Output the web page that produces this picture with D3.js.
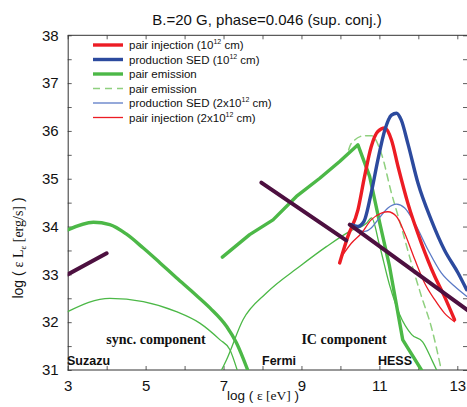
<!DOCTYPE html>
<html>
<head>
<meta charset="utf-8">
<script src="https://cdn.jsdelivr.net/npm/d3@7/dist/d3.min.js"></script>
<style>
  body { margin: 0; background: #fff; }
  text { font-family: "Liberation Sans", Arial, sans-serif; fill: #111; }
</style>
</head>
<body>
<svg id="chart" width="467" height="407"></svg>
<script>
// ---- tick labels ----
const xTickLabels = [3, 5, 7, 9, 11, 13];
const yTickLabels = [31, 32, 33, 34, 35, 36, 37, 38];

// ---- model curves: [log eps (eV), log eps L (erg/s)] ----
const pairInjection1 = [[9.98,33.24],[10.19,33.79],[10.45,34.35],[10.62,35.05],[10.79,35.67],[10.96,35.99],[11.14,36.06],[11.31,35.81],[11.48,35.25],[11.73,34.49],[12.08,33.65],[12.42,32.96],[12.67,32.54],[12.93,32.05]];
const productionSED1 = [[10.28,34.04],[10.44,34.0],[10.6,34.1],[10.79,34.70],[10.96,35.39],[11.14,36.02],[11.31,36.33],[11.44,36.37],[11.56,36.23],[11.73,35.74],[11.99,34.91],[12.33,34.14],[12.67,33.51],[13.02,33.03],[13.24,32.68]];
const productionSED2 = [[10.28,34.04],[10.62,33.90],[10.79,33.97],[10.96,34.14],[11.22,34.39],[11.44,34.47],[11.65,34.39],[11.91,34.07],[12.25,33.51],[12.59,33.03],[12.93,32.75],[13.24,32.54]];
const pairInjection2 = [[10.03,33.37],[10.28,33.65],[10.54,33.86],[10.79,34.14],[11.05,34.28],[11.22,34.31],[11.44,34.21],[11.65,33.86],[11.91,33.31],[12.16,32.82],[12.42,32.47],[12.67,32.19],[12.93,32.01]];
const pairEmissionSync = [[3.0,33.93],[3.66,34.09],[4.08,34.04],[4.51,33.84],[4.94,33.55],[5.37,33.24],[5.79,32.93],[6.22,32.62],[6.65,32.30],[7.08,31.91],[7.33,31.57],[7.62,31.0]];
const pairEmissionIC = [[6.97,33.36],[7.67,33.83],[8.27,34.14],[8.87,34.63],[9.47,35.01],[9.98,35.36],[10.45,35.71],[10.75,35.05],[11.01,34.07],[11.26,33.17],[11.6,31.63],[12.08,31.0]];
const pairEmissionDashed = [[10.21,35.60],[10.28,35.74],[10.62,35.90],[10.80,35.90],[11.05,35.53],[11.31,34.70],[11.56,34.00],[11.82,33.24],[12.08,32.54],[12.33,31.91],[12.59,31.0]];
const thinSync = [[3.0,32.22],[4.08,32.50],[4.94,32.43],[5.79,32.22],[6.39,31.98],[6.91,31.63],[7.16,31.43],[7.35,31.0]];
const thinIC = [[6.95,31.0],[7.08,31.22],[7.5,32.05],[8.1,32.61],[8.96,33.17],[9.64,33.58],[10.24,33.9],[10.67,34.07],[10.8,34.18],[11.0,33.62],[11.26,32.78],[11.52,32.16],[11.83,31.74],[12.11,31.59],[12.37,31.17],[12.47,31.0]];

// ---- observational spectra ----
const suzaku = [[3.0,33.0],[4.0,33.44]];
const fermi = [[7.97,34.92],[10.15,33.71]];
const hess = [[10.24,34.04],[13.3,32.23]];

const legendLabels = [
  ["pair injection (10", "12", " cm)"],
  ["production SED (10", "12", " cm)"],
  ["pair emission", "", ""],
  ["pair emission", "", ""],
  ["production SED (2x10", "12", " cm)"],
  ["pair injection (2x10", "12", " cm)"]
];

const RED = "#ec1c24", BLUE = "#2c4a9e", GREEN = "#4cb847",
      LGREEN = "#8fd07f", LBLUE = "#5b7ac6", PURPLE = "#4d1040";

const svg = d3.select("#chart");
const pLeft = 67.7, pRight = 468, pTop = 35.3, pBottom = 370;
const x = d3.scaleLinear().domain([3, 13]).range([pLeft, 457.3]);
const y = d3.scaleLinear().domain([31, 38]).range([pBottom, pTop]);

svg.append("defs").append("clipPath").attr("id", "plot")
  .append("rect").attr("x", pLeft).attr("y", pTop)
  .attr("width", pRight - pLeft).attr("height", pBottom - pTop);

// ---- axes (ticks point inward) ----
const axisColor = "#333";
const xAll = d3.range(3, 14, 1);
const yAll = d3.range(31, 38.01, 0.5);

const gx = svg.append("g").attr("transform", `translate(0,${pBottom})`)
  .call(d3.axisBottom(x).tickValues(xAll).tickSizeInner(-4).tickSizeOuter(0).tickPadding(10)
    .tickFormat(d => xTickLabels.includes(d) ? d : ""));
const gxt = svg.append("g").attr("transform", `translate(0,${pTop})`)
  .call(d3.axisTop(x).tickValues(xAll).tickSizeInner(-4).tickSizeOuter(0).tickFormat(""));
const gy = svg.append("g").attr("transform", `translate(${pLeft},0)`)
  .call(d3.axisLeft(y).tickValues(yAll).tickSizeInner(-4).tickSizeOuter(0).tickPadding(9)
    .tickFormat(d => yTickLabels.includes(d) ? d : ""));
const gyr = svg.append("g").attr("transform", `translate(${pRight},0)`)
  .call(d3.axisRight(y).tickValues(yAll).tickSizeInner(-5).tickSizeOuter(0).tickFormat(""));

[gx, gxt, gy, gyr].forEach(g => {
  g.select(".domain").attr("stroke", axisColor).attr("stroke-width", 1);
  g.selectAll(".tick line").attr("stroke", axisColor).attr("stroke-width", 0.8);
  g.selectAll(".tick text").style("font-family", "'Liberation Sans', Arial, sans-serif")
    .style("font-size", "15px").attr("fill", "#111");
});
// horizontal axis lines run the full plot width
gxt.select(".domain").attr("d", `M${pLeft},0H${pRight}`);
gx.select(".domain").attr("d", `M${pLeft},0H${pRight}`);

// ---- curves ----
const plot = svg.append("g").attr("clip-path", "url(#plot)");
const smooth = d3.line().x(d => x(d[0])).y(d => y(d[1])).curve(d3.curveMonotoneX);
const straight = d3.line().x(d => x(d[0])).y(d => y(d[1]));

function draw(data, color, width, gen, dash) {
  plot.append("path").datum(data)
    .attr("d", gen || smooth)
    .attr("fill", "none").attr("stroke", color).attr("stroke-width", width)
    .attr("stroke-linejoin", "round").attr("stroke-linecap", "round")
    .attr("stroke-dasharray", dash || null);
}

draw(thinSync, GREEN, 1.3);
draw(thinIC, GREEN, 1.3);
draw(pairEmissionSync, GREEN, 3.4);
draw(pairEmissionIC, GREEN, 3.4, straight);
draw(pairEmissionDashed, LGREEN, 1.5, null, "7,5");
draw(productionSED2, LBLUE, 1.3);
draw(pairInjection2, RED, 1.3);
draw(pairInjection1, RED, 3.4);
draw(productionSED1, BLUE, 3.4);
[suzaku, fermi, hess].forEach(d => draw(d, PURPLE, 4, straight));

// ---- annotations ----
const serif = "'Liberation Serif', 'Times New Roman', serif";
svg.append("text").attr("x", 156).attr("y", 344).attr("text-anchor", "middle")
  .style("font-family", serif).style("font-weight", "bold").style("font-size", "14px")
  .text("sync. component");
svg.append("text").attr("x", 344).attr("y", 344).attr("text-anchor", "middle")
  .style("font-family", serif).style("font-weight", "bold").style("font-size", "14px")
  .text("IC component");
[["Suzazu", 67], ["Fermi", 262], ["HESS", 378]].forEach(([t, px]) => {
  svg.append("text").attr("x", px).attr("y", 365)
    .style("font-size", "12.5px").style("font-weight", "bold").attr("fill", "#222").text(t);
});

// ---- legend ----
const legendStyles = [
  [RED, 3.4, null], [BLUE, 3.4, null], [GREEN, 3.4, null],
  [LGREEN, 1.5, "7,5"], [LBLUE, 1.3, null], [RED, 1.3, null]
];
const lg = svg.append("g");
legendLabels.forEach((lab, i) => {
  const ly = 45 + i * 14.5;
  const [c, w, dash] = legendStyles[i];
  lg.append("line").attr("x1", 93).attr("x2", 123).attr("y1", ly).attr("y2", ly)
    .attr("stroke", c).attr("stroke-width", w).attr("stroke-dasharray", dash);
  const t = lg.append("text").attr("x", 129).attr("y", ly + 4).style("font-size", "11.5px");
  t.append("tspan").text(lab[0]);
  if (lab[1]) {
    t.append("tspan").attr("dy", -5).style("font-size", "7px").text(lab[1]);
    t.append("tspan").attr("dy", 5).text(lab[2]);
  }
});

// ---- titles ----
svg.append("text").attr("x", 267).attr("y", 25).attr("text-anchor", "middle")
  .style("font-size", "15px").text("B.=20 G, phase=0.046 (sup. conj.)");

const xl = svg.append("text").attr("x", 263).attr("y", 400).attr("text-anchor", "middle")
  .style("font-size", "13.5px");
xl.append("tspan").text("log ( ");
xl.append("tspan").style("font-family", serif).text("ε [eV]");
xl.append("tspan").text(" )");

const yl = svg.append("text").attr("transform", "translate(23,248) rotate(-90)")
  .attr("text-anchor", "middle").style("font-size", "14px");
yl.append("tspan").text("log ( ");
yl.append("tspan").style("font-family", serif).text("ε L");
yl.append("tspan").style("font-family", serif).style("font-size", "9px").attr("dy", 3).text("ε");
yl.append("tspan").style("font-family", serif).attr("dy", -3).text(" [erg/s]");
yl.append("tspan").text(" )");
</script>
</body>
</html>
